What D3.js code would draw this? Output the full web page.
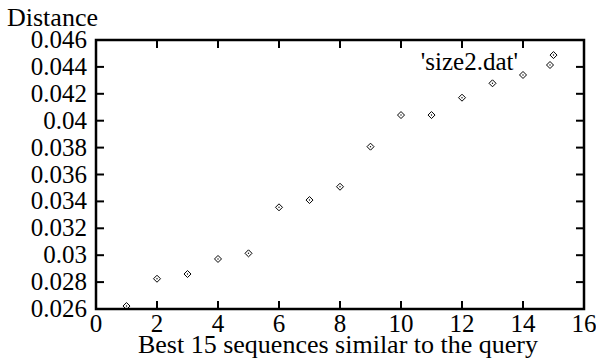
<!DOCTYPE html>
<html>
<head>
<meta charset="utf-8">
<script src="https://cdn.jsdelivr.net/npm/d3@7"></script>
<style>
  body { margin: 0; background: #fff; }
</style>
</head>
<body>
<div id="chart"></div>
<script>
// data
var xs = [1, 2, 3, 4, 5, 6, 7, 8, 9, 10, 11, 12, 13, 14, 15]
var distances = [0.02622, 0.02825, 0.0286, 0.02972, 0.03014, 0.03356, 0.0341, 0.03509,
                 0.03807, 0.04042, 0.04042, 0.04171, 0.04278, 0.0434, 0.04488]
var xTicks = [0, 2, 4, 6, 8, 10, 12, 14, 16]
var yTicks = [0.026, 0.028, 0.03, 0.032, 0.034, 0.036, 0.038, 0.04, 0.042, 0.044, 0.046]
var yTickLabels = ["0.026", "0.028", "0.03", "0.032", "0.034", "0.036", "0.038", "0.04", "0.042", "0.044", "0.046"]
var seriesName = "'size2.dat'"

var width = 596, height = 358
var margin = { top: 40, right: 12, bottom: 49, left: 96 }
var plotW = width - margin.left - margin.right
var plotH = height - margin.top - margin.bottom
var serif = "Liberation Serif, Tinos, Times New Roman, Times, Nimbus Roman, Nimbus Roman No9 L, FreeSerif, DejaVu Serif, Noto Serif, serif"

var x = d3.scaleLinear().domain([0, 16]).range([0, plotW])
var y = d3.scaleLinear().domain([0.026, 0.046]).range([plotH, 0])

var svg = d3.select("#chart").append("svg")
  .attr("width", width)
  .attr("height", height)

var g = svg.append("g")
  .attr("transform", "translate(" + margin.left + "," + margin.top + ")")

// diamond marker with a dot in the middle
function diamond(sel) {
  sel.append("path")
    .attr("d", "M0,-3.5L3.5,0L0,3.5L-3.5,0Z")
    .attr("fill", "none")
    .attr("stroke", "#000")
    .attr("stroke-width", 1)
  sel.append("circle")
    .attr("r", 0.7)
    .attr("fill", "#000")
}

// ticks, inward, on all four sides
var tickLen = 8
g.append("g").selectAll("line.xb")
  .data(xTicks).enter().append("line")
    .attr("x1", function(d) { return x(d) }).attr("x2", function(d) { return x(d) })
    .attr("y1", plotH).attr("y2", plotH - tickLen)
    .attr("stroke", "#000").attr("stroke-width", 2)
g.append("g").selectAll("line.xt")
  .data(xTicks).enter().append("line")
    .attr("x1", function(d) { return x(d) }).attr("x2", function(d) { return x(d) })
    .attr("y1", 0).attr("y2", tickLen)
    .attr("stroke", "#000").attr("stroke-width", 2)
g.append("g").selectAll("line.yl")
  .data(yTicks).enter().append("line")
    .attr("x1", 0).attr("x2", tickLen)
    .attr("y1", function(d) { return y(d) }).attr("y2", function(d) { return y(d) })
    .attr("stroke", "#000").attr("stroke-width", 2)
g.append("g").selectAll("line.yr")
  .data(yTicks).enter().append("line")
    .attr("x1", plotW).attr("x2", plotW - tickLen)
    .attr("y1", function(d) { return y(d) }).attr("y2", function(d) { return y(d) })
    .attr("stroke", "#000").attr("stroke-width", 2)

// frame
g.append("rect")
  .attr("width", plotW).attr("height", plotH)
  .attr("fill", "none").attr("stroke", "#000").attr("stroke-width", 2.5)

// tick labels
g.append("g").selectAll("text")
  .data(xTicks).enter().append("text")
    .attr("x", function(d) { return x(d) })
    .attr("y", plotH + 23)
    .attr("text-anchor", "middle")
    .style("font-family", serif)
    .style("font-size", "25px")
    .text(function(d) { return d })

g.append("g").selectAll("text")
  .data(yTicks).enter().append("text")
    .attr("x", -9)
    .attr("y", function(d) { return y(d) + 8 })
    .attr("text-anchor", "end")
    .style("font-family", serif)
    .style("font-size", "25px")
    .text(function(d, i) { return yTickLabels[i] })

// axis titles
svg.append("text")
  .attr("x", 7).attr("y", 26)
  .style("font-family", serif)
  .style("font-size", "26px")
  .text("Distance")

svg.append("text")
  .attr("x", 338).attr("y", 353)
  .attr("text-anchor", "middle")
  .style("font-family", serif)
  .style("font-size", "26px")
  .text("Best 15 sequences similar to the query")

// points
g.append("g").selectAll("g")
  .data(xs).enter().append("g")
    .attr("transform", function(d, i) { return "translate(" + x(d) + "," + y(distances[i]) + ")" })
    .call(diamond)

// key
var key = g.append("g")
key.append("text")
  .attr("x", 422).attr("y", 30)
  .attr("text-anchor", "end")
  .style("font-family", serif)
  .style("font-size", "25px")
  .text(seriesName)
key.append("g")
  .attr("transform", "translate(454,25)")
  .call(diamond)
</script>
</body>
</html>
